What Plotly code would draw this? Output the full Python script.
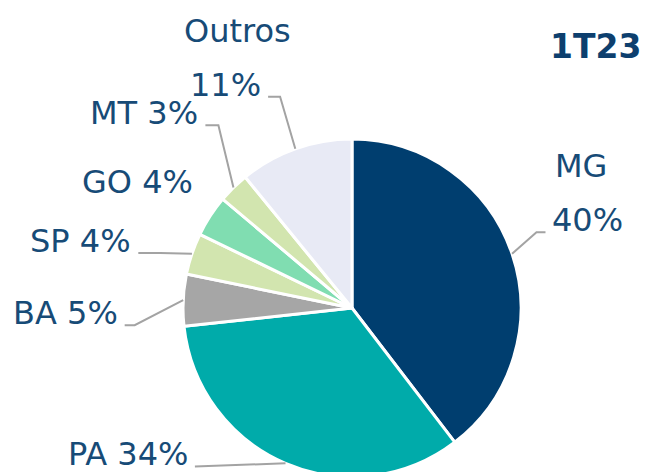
import math
import plotly.graph_objects as go

estados = ["MG", "PA", "BA", "SP", "GO", "MT", "Outros"]
participacao = [40, 34, 5, 4, 4, 3, 11]
cores = ["#003E6F", "#00ABAA", "#A6A6A6", "#D2E5AF", "#80DDB1", "#D2E5AF", "#E8EAF5"]
periodo = "1T23"

W, H = 650, 472
OFF = 8  # page body margin shifts the figure
TXT = "#174B77"
FONT = "DejaVu Sans"
FS = 32

# wanted pie center / radius in page pixels
pc_x, pc_y, R = 352, 308, 169
fx, fy = pc_x - OFF, pc_y - OFF
dom_x = [(fx - R - 40) / W, (fx + R + 40) / W]
dom_y = [1 - (fy + R) / H, 1 - (fy - R) / H]

# leader line layout per slice: radius factor, angle shift, tail length, draw line
layout_lbl = {
    "MG": (1.18, -3.6, 9, True),
    "PA": (1.32, 21.6, 0, True),
    "BA": (1.29, -7.2, 10, True),
    "SP": (1.18, -2.7, 22, True),
    "GO": (1.1, 5, 5, False),
    "MT": (1.34, 8.4, 13, True),
    "Outros": (1.32, 0.8, 12, True),
}
# state name placed above the percentage: centre offset from the anchor
top_shift = {"MG": 31, "Outros": -26}


def px(x, y):
    # page pixels -> paper coords of the figure
    return (x - OFF) / W, 1 - (y - OFF) / H


fig = go.Figure(go.Pie(
    labels=estados, values=participacao, sort=False, direction="clockwise",
    rotation=0, marker=dict(colors=cores, line=dict(color="white", width=3)),
    textinfo="none", hoverinfo="label+percent", domain=dict(x=dom_x, y=dom_y),
    showlegend=False,
))

total = sum(participacao)
acc = 0
shapes, notes = [], []
for nome, v in zip(estados, participacao):
    mid = (acc + v / 2) / total * 360
    acc += v
    k, d, tail, line = layout_lbl[nome]
    a0 = math.radians(mid)
    a1 = math.radians(mid + d)
    x0, y0 = pc_x + R * math.sin(a0), pc_y - R * math.cos(a0)
    x1, y1 = pc_x + R * k * math.sin(a1), pc_y - R * k * math.cos(a1)
    side = 1 if x1 > pc_x else -1
    x2, y2 = x1 + side * tail, y1
    if line:
        pts = [px(x0, y0), px(x1, y1), px(x2, y2)]
        path = "M " + " L ".join(f"{a},{b}" for a, b in pts)
        shapes.append(dict(type="path", path=path, xref="paper", yref="paper",
                           line=dict(color="#A3A3A3", width=2)))
    ax, ay = px(x2 + side * 5, y2)
    pct = f"{v}%"
    two = nome in top_shift
    main = pct if two else f"{nome} {pct}"
    anchor = "left" if side > 0 else "right"
    notes.append(dict(x=ax, y=ay, xref="paper", yref="paper", text=main,
                      showarrow=False, xanchor=anchor, yanchor="bottom", yshift=-9,
                      font=dict(family=FONT, size=FS, color=TXT)))
    if two:
        notes.append(dict(x=ax, y=ay, xref="paper", yref="paper", text=nome,
                          showarrow=False, xanchor="center", yanchor="bottom",
                          yshift=-9 + 54, xshift=top_shift[nome],
                          font=dict(family=FONT, size=FS, color=TXT)))

tx, ty = px(643, 25)
notes.append(dict(x=tx, y=ty, xref="paper", yref="paper",
                  text=f"<b>{periodo}</b>", showarrow=False, xanchor="right",
                  yanchor="top", font=dict(family=FONT, size=33, color="#0D3F6E")))

fig.update_layout(
    width=W, height=H, margin=dict(l=0, r=0, t=0, b=0),
    paper_bgcolor="white", plot_bgcolor="white",
    shapes=shapes, annotations=notes,
)

fig.write_html("out.html")
